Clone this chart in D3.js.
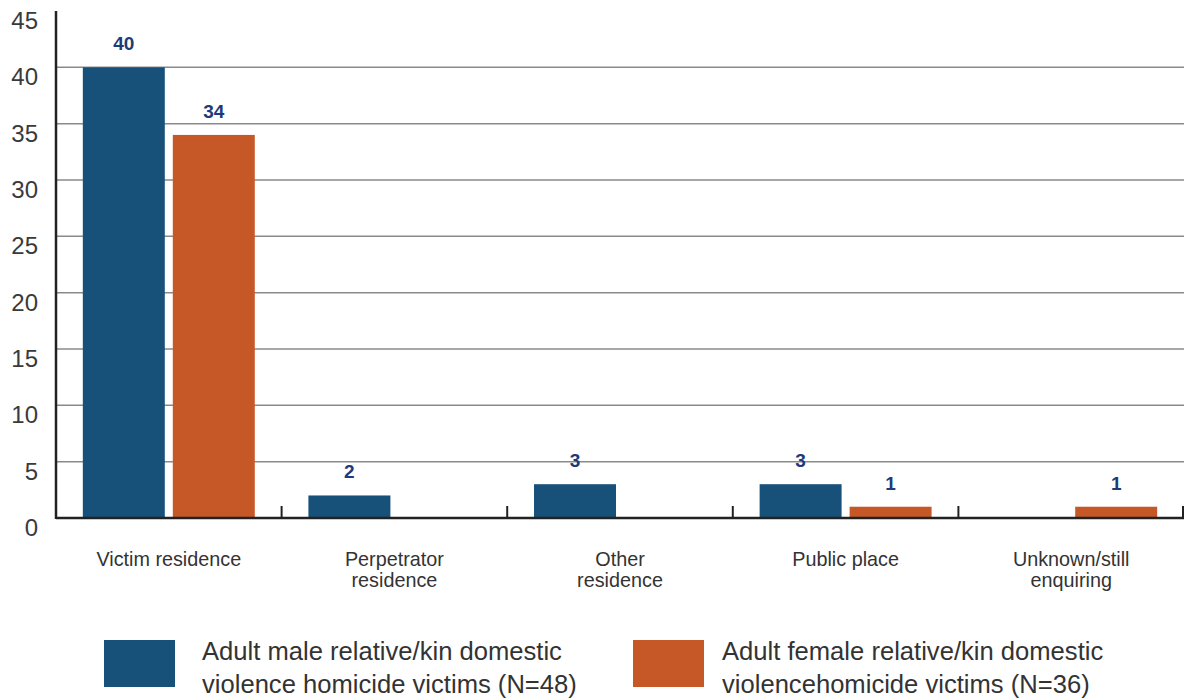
<!DOCTYPE html>
<html>
<head>
<meta charset="utf-8">
<script src="https://cdn.jsdelivr.net/npm/d3@7"></script>
<style>
  body { margin: 0; background: #fff; }
  svg { display: block; font-family: "Liberation Sans", Arial, sans-serif; }
</style>
</head>
<body>
<svg id="chart" width="1184" height="699"></svg>
<script>
// Location of domestic violence homicide, by victim group

let categories = [
  ["Victim residence"],
  ["Perpetrator", "residence"],
  ["Other", "residence"],
  ["Public place"],
  ["Unknown/still", "enquiring"]
];
let maleValues = [40, 2, 3, 3, 0];
let femaleValues = [34, 0, 0, 1, 1];
let seriesNames = [
  ["Adult male relative/kin domestic", "violence homicide victims (N=48)"],
  ["Adult female relative/kin domestic", "violencehomicide victims (N=36)"]
];
let yTicks = [0, 5, 10, 15, 20, 25, 30, 35, 40, 45];

let COLOURS = ["#175079", "#c65828"];

let svg = d3.select("#chart");
let plot = {left: 56, right: 1184, top: 11, bottom: 518};

let x = d3.scaleBand()
  .domain(d3.range(categories.length))
  .range([plot.left, plot.right]);

let xInner = d3.scaleBand()
  .domain([0, 1])
  .range([0, x.bandwidth()])
  .paddingInner(0.089)
  .paddingOuter(0.298);

let y = d3.scaleLinear()
  .domain([0, 45])
  .range([plot.bottom, plot.top]);

// gridlines
svg.append("g")
  .selectAll("line")
  .data(yTicks.filter(d => d > 0 && d < 45))
  .enter().append("line")
    .attr("x1", plot.left)
    .attr("x2", plot.right)
    .attr("y1", d => y(d))
    .attr("y2", d => y(d))
    .attr("stroke", "#8a8a8a")
    .attr("stroke-width", 1.5);

// y labels
svg.append("g")
  .selectAll("text")
  .data(yTicks)
  .enter().append("text")
    .attr("x", 38)
    .attr("y", d => y(d) + 18)
    .attr("text-anchor", "end")
    .attr("font-size", "24px")
    .attr("fill", "#3a3a3a")
    .text(d => d);

let series = [maleValues, femaleValues];

let groups = svg.append("g")
  .selectAll("g")
  .data(categories)
  .enter().append("g")
    .attr("transform", (d, i) => "translate(" + x(i) + ",0)");

// x axis baseline and ticks
svg.append("line")
  .attr("x1", plot.left).attr("x2", plot.right)
  .attr("y1", plot.bottom).attr("y2", plot.bottom)
  .attr("stroke", "#222").attr("stroke-width", 2.5);

svg.append("g")
  .selectAll("line")
  .data(d3.range(1, categories.length + 1))
  .enter().append("line")
    .attr("x1", i => i < categories.length ? x(i) : plot.right - 1)
    .attr("x2", i => i < categories.length ? x(i) : plot.right - 1)
    .attr("y1", plot.bottom)
    .attr("y2", plot.bottom - 12)
    .attr("stroke", "#222")
    .attr("stroke-width", 2);

// bars
groups.each(function(cat, i) {
  let g = d3.select(this);
  series.forEach(function(vals, s) {
    let v = vals[i];
    g.append("rect")
      .attr("x", xInner(s))
      .attr("width", xInner.bandwidth())
      .attr("y", v > 0 ? y(v) : plot.bottom - 1)
      .attr("height", v > 0 ? y(0) - y(v) : 1)
      .attr("fill", COLOURS[s])
      .attr("opacity", v > 0 ? 1 : 0.45);
    if (v > 0) {
      g.append("text")
        .attr("x", xInner(s) + xInner.bandwidth() / 2)
        .attr("y", y(v) - 17)
        .attr("text-anchor", "middle")
        .attr("font-size", "19px")
        .attr("font-weight", "bold")
        .attr("fill", "#1c3b78")
        .text(v);
    }
  });
});

// y axis line
svg.append("line")
  .attr("x1", plot.left).attr("x2", plot.left)
  .attr("y1", plot.top).attr("y2", plot.bottom + 1)
  .attr("stroke", "#222").attr("stroke-width", 2.5);

// category labels
groups.append("text")
  .attr("text-anchor", "middle")
  .attr("font-size", "19.8px")
  .attr("fill", "#333")
  .selectAll("tspan")
  .data(d => d)
  .enter().append("tspan")
    .attr("x", x.bandwidth() / 2)
    .attr("y", (d, j) => 566 + j * 20.5)
    .text(d => d);

// legend
let legendX = [104, 633];
let legendTextX = [98, 89];
let legend = svg.append("g")
  .selectAll("g")
  .data(seriesNames)
  .enter().append("g")
    .attr("transform", (d, i) => "translate(" + legendX[i] + ",640)");

legend.append("rect")
  .attr("width", 71)
  .attr("height", 47)
  .attr("fill", (d, i) => COLOURS[i]);

legend.each(function(lines, i) {
  d3.select(this).append("text")
    .attr("font-size", "25.6px")
    .attr("fill", "#333")
    .selectAll("tspan")
    .data(lines)
    .enter().append("tspan")
      .attr("x", legendTextX[i])
      .attr("y", (d, j) => 20 + j * 32.5)
      .text(d => d);
});
</script>
</body>
</html>
